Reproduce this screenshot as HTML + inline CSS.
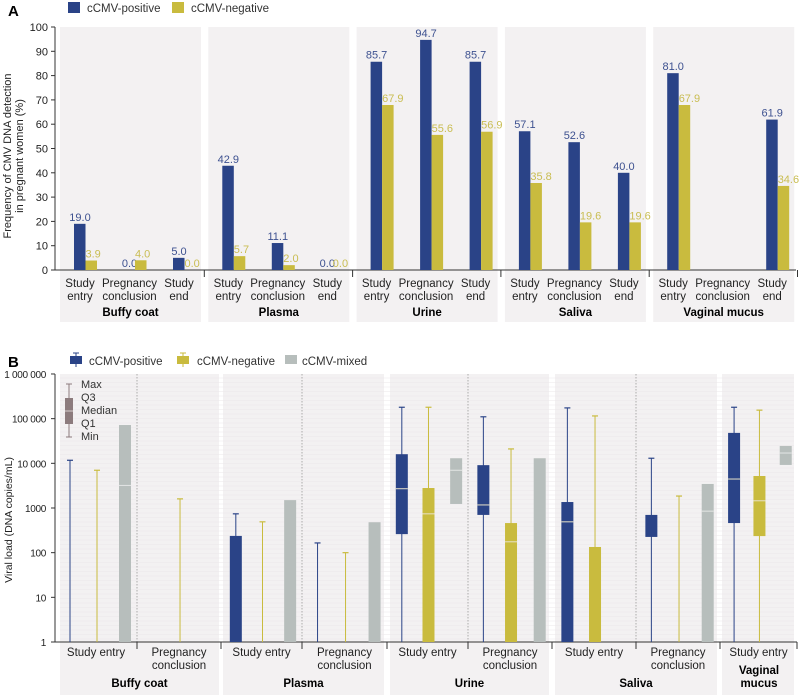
<!DOCTYPE html>
<html><head><meta charset="utf-8"><style>
html,body{margin:0;padding:0;background:#fff;}
svg{display:block;font-family:"Liberation Sans",sans-serif;}
</style></head><body>
<svg id="chart" width="800" height="695" viewBox="0 0 800 695" xmlns="http://www.w3.org/2000/svg">
<g id="gA"></g>
<g id="gB"></g>
</svg>
<script>
// ---------- Panel A data ----------
const aGroups = ["Buffy coat","Plasma","Urine","Saliva","Vaginal mucus"];
const aCats = [["Study","entry"],["Pregnancy","conclusion"],["Study","end"]];
const aPos = [[19.0,0.0,5.0],[42.9,11.1,0.0],[85.7,94.7,85.7],[57.1,52.6,40.0],[81.0,null,61.9]];
const aNeg = [[3.9,4.0,0.0],[5.7,2.0,0.0],[67.9,55.6,56.9],[35.8,19.6,19.6],[67.9,null,34.6]];
const aTicks = [0,10,20,30,40,50,60,70,80,90,100];
// ---------- Panel B data ----------
const bGroups = ["Buffy coat","Plasma","Urine","Saliva","Vaginal mucus"];
const bSubs = [["Study entry","Pregnancy conclusion"],["Study entry","Pregnancy conclusion"],["Study entry","Pregnancy conclusion"],["Study entry","Pregnancy conclusion"],["Study entry"]];
// [min,q1,median,q3,max] ; null = not shown
const bPos = [[1,1,null,1,11700],[1,1,null,1,null],[1,1,null,237,740],[1,1,null,1,165],[1,260,2700,16000,180000],[1,700,1170,9100,110000],[1,1,490,1360,174000],[1,225,225,700,13000],[1,460,4450,48000,180000]];
const bNeg = [[1,1,null,1,7000],[1,1,null,1,1600],[1,1,null,1,490],[1,1,null,1,100],[1,1,740,2800,180000],[1,1,175,460,21000],[1,1,null,134,115000],[1,1,null,1,1850],[1,235,1450,5200,155000]];
const bMix = [[1,3200,72000],[null,null,null],[1,null,1500],[1,null,480],[1230,7000,13000],[1,null,13000],[null,null,null],[1,850,3450],[9200,17000,24500]];
const bTicks = [1,10,100,1000,10000,100000,1000000];
const bTickLabels = ["1","10","100","1000","10 000","100 000","1 000 000"];

const NS="http://www.w3.org/2000/svg";
const BLUE="#2a4387", YEL="#c9bb3e", GRAY="#b7bebc", BG="#f3f1f2";
function mk(p,tag,attrs,text){const e=document.createElementNS(NS,tag);for(const k in attrs)e.setAttribute(k,attrs[k]);if(text!=null)e.textContent=text;p.appendChild(e);return e;}

// ===== Panel A =====
const gA=document.getElementById('gA');
const yA=v=>270-v*2.43;
const panelX=g=>60+g*148.3;
const t=mk(gA,'text',{x:8,y:16,'font-size':15,'font-weight':'bold'},'A');

let r=mk(gA,'rect',{x:68,y:2,width:12,height:11,fill:BLUE});

let tx=mk(gA,'text',{x:87,y:12,'font-size':11.5,fill:'#333'},'cCMV-positive');

r=mk(gA,'rect',{x:172,y:2,width:12,height:11,fill:YEL});

tx=mk(gA,'text',{x:191,y:12,'font-size':11.5,fill:'#333'},'cCMV-negative');

aGroups.forEach((gname,g)=>{
  const px=panelX(g);
  const bg=mk(gA,'rect',{x:px,y:27,width:141,height:295,fill:BG});
  
  const gl=mk(gA,'text',{x:px+70.5,y:316,'font-size':11.5,'font-weight':'bold','text-anchor':'middle'},gname);
  
});
aTicks.forEach(v=>{
  const l=mk(gA,'line',{x1:51,x2:55,y1:yA(v),y2:yA(v),stroke:'#333','stroke-width':1});
  
  const tl=mk(gA,'text',{x:48,y:yA(v)+4,'font-size':11,'text-anchor':'end',fill:'#222'},String(v));
  
});
let ax=mk(gA,'line',{x1:55,x2:55,y1:27,y2:270,stroke:'#333','stroke-width':1});

ax=mk(gA,'line',{x1:55,x2:796,y1:270,y2:270,stroke:'#333','stroke-width':1});

[1,2,3,4,5].forEach(i=>{const l=mk(gA,'line',{x1:panelX(i)-4,x2:panelX(i)-4,y1:270,y2:277,stroke:'#333'});
  });
const yt=mk(gA,'text',{transform:'translate(11,156) rotate(-90)','font-size':11,'text-anchor':'middle',fill:'#222'});

mk(yt,'tspan',{x:0,dy:0},'Frequency of CMV DNA detection');
mk(yt,'tspan',{x:0,dy:12},'in pregnant women (%)');
aGroups.forEach((gname,g)=>{
  aCats.forEach((c,i)=>{
    const bx=panelX(g)+14+49.5*i;
    const cl=mk(gA,'text',{x:bx+6,y:287,'font-size':11.5,'text-anchor':'middle',fill:'#222'});
    
    mk(cl,'tspan',{x:bx+6,dy:0},c[0]);mk(cl,'tspan',{x:bx+6,dy:13},c[1]);
    const p=aPos[g][i], n=aNeg[g][i];
    if(p!=null){
      const b=mk(gA,'rect',{x:bx,y:yA(p),width:11.5,height:270-yA(p),fill:BLUE});
      
      const l=mk(gA,'text',{x:bx+6,y:yA(p)-3,'font-size':11,'text-anchor':'middle',fill:'#3d5190'},p.toFixed(1));
      
    }
    if(n!=null){
      const b=mk(gA,'rect',{x:bx+11.5,y:yA(n),width:11.5,height:270-yA(n),fill:YEL});
      
      const l=mk(gA,'text',{x:bx+11.5,y:yA(n)-3,'font-size':11,'text-anchor':'start',fill:'#c9bd52'},n.toFixed(1));
      
    }
  });
});

// ===== Panel B =====
const gB=document.getElementById('gB');
const yB=v=>642-Math.log10(v)*44.67;
const subStarts=[55,137,221,302,387,468,552,636,720,797];
const groupBg=[[60,219],[223,384],[390,549],[555,717],[722,794]];
let bt=mk(gB,'text',{x:8,y:367,'font-size':15,'font-weight':'bold'},'B');

groupBg.forEach((gb,g)=>{
  const bg=mk(gB,'rect',{x:gb[0],y:374,width:gb[1]-gb[0],height:321,fill:BG});
  
  const nm=bGroups[g];
  if(nm==="Vaginal mucus"){
    const gl=mk(gB,'text',{x:(gb[0]+gb[1])/2+1,y:674,'font-size':11.5,'font-weight':'bold','text-anchor':'middle'});
    
    mk(gl,'tspan',{x:(gb[0]+gb[1])/2+1,dy:0},'Vaginal');mk(gl,'tspan',{x:(gb[0]+gb[1])/2+1,dy:13},'mucus');
  } else {
    const gl=mk(gB,'text',{x:(gb[0]+gb[1])/2,y:687,'font-size':11.5,'font-weight':'bold','text-anchor':'middle'},nm);
    
  }
});
for(let y=378;y<642;y+=4.5){
  const l=mk(gB,'line',{x1:60,x2:794,y1:y,y2:y,stroke:'#ebe8ea','stroke-width':0.6});
  
}
[137,302,468,636].forEach(x=>{const l=mk(gB,'line',{x1:x,x2:x,y1:374,y2:642,stroke:'#999','stroke-width':0.8,'stroke-dasharray':'1.5,1.5'});
  });
bTicks.forEach((v,i)=>{
  const l=mk(gB,'line',{x1:51,x2:55,y1:yB(v),y2:yB(v),stroke:'#333'});
  
  const tl=mk(gB,'text',{x:46,y:yB(v)+4,'font-size':10,'letter-spacing':'-0.3','text-anchor':'end',fill:'#222'},bTickLabels[i]);
  
});
ax=mk(gB,'line',{x1:55,x2:55,y1:374,y2:642,stroke:'#333'});

ax=mk(gB,'line',{x1:55,x2:797,y1:642,y2:642,stroke:'#333'});

subStarts.slice(1).forEach(x=>{const l=mk(gB,'line',{x1:x,x2:x,y1:642,y2:649,stroke:'#333'});
  });
const ytb=mk(gB,'text',{transform:'translate(12,520) rotate(-90)','font-size':10.5,'text-anchor':'middle',fill:'#222'},'Viral load (DNA copies/mL)');

function legIcon(x,col,name){
  const l=mk(gB,'line',{x1:x+6,x2:x+6,y1:353,y2:367,stroke:col,'stroke-width':1});
  
  const c=mk(gB,'line',{x1:x+3,x2:x+9,y1:353,y2:353,stroke:col});
  const b=mk(gB,'rect',{x:x,y:356,width:12,height:8,fill:col});
}
legIcon(70,BLUE,'legend-b-positive');
tx=mk(gB,'text',{x:89,y:365,'font-size':11.5,fill:'#333'},'cCMV-positive');
legIcon(177,YEL,'legend-b-negative');
tx=mk(gB,'text',{x:197,y:365,'font-size':11.5,fill:'#333'},'cCMV-negative');
r=mk(gB,'rect',{x:285,y:355,width:12,height:9,fill:GRAY});
tx=mk(gB,'text',{x:302,y:365,'font-size':11.5,fill:'#333'},'cCMV-mixed');
const KC="#8c7b7d";
let k=mk(gB,'line',{x1:69,x2:69,y1:384,y2:437,stroke:KC});
k=mk(gB,'line',{x1:66,x2:72,y1:384,y2:384,stroke:KC});
k=mk(gB,'line',{x1:66,x2:72,y1:437,y2:437,stroke:KC});
k=mk(gB,'rect',{x:65,y:398,width:8,height:26,fill:KC});
k=mk(gB,'line',{x1:65,x2:73,y1:411,y2:411,stroke:'#d8cfd0'});
["Max","Q3","Median","Q1","Min"].forEach((s,i)=>{const e=mk(gB,'text',{x:81,y:388+13*i,'font-size':11,fill:'#333'},s);
  });
let si=0;
bSubs.forEach((subs,g)=>{
  subs.forEach(name=>{
    const s0=subStarts[si], s1=subStarts[si+1], sc=(s1-s0)/82;
    const cx=(s0+s1)/2;
    if(name==="Study entry"){
      const e=mk(gB,'text',{x:cx,y:656,'font-size':11.5,'text-anchor':'middle',fill:'#222'},name);
      
    } else {
      const e=mk(gB,'text',{x:cx,y:656,'font-size':11.5,'text-anchor':'middle',fill:'#222'});
      
      mk(e,'tspan',{x:cx,dy:0},'Pregnancy');mk(e,'tspan',{x:cx,dy:13},'conclusion');
    }
    [[bPos,BLUE,15,'box-positive'],[bNeg,YEL,42,'box-negative']].forEach(([arr,col,off,nm])=>{
      const d=arr[si]; const x=s0+off*sc;
      if(d[4]!=null){
        const w=mk(gB,'line',{x1:x,x2:x,y1:yB(d[4]),y2:yB(d[0]),stroke:col,'stroke-width':1});
        
        const c=mk(gB,'line',{x1:x-3,x2:x+3,y1:yB(d[4]),y2:yB(d[4]),stroke:col,'stroke-width':1.2});
        
      }
      if(d[3]>d[1]){
        const b=mk(gB,'rect',{x:x-6,y:yB(d[3]),width:12,height:yB(d[1])-yB(d[3]),fill:col});
        
      }
      if(d[2]!=null && d[2]>d[1]){
        const m=mk(gB,'line',{x1:x-6,x2:x+6,y1:yB(d[2]),y2:yB(d[2]),stroke:'#e8e2c8','stroke-width':1});
        
      }
    });
    const mx=bMix[si];
    if(mx[2]!=null){
      const x=s0+70*sc;
      const b=mk(gB,'rect',{x:x-6,y:yB(mx[2]),width:12,height:yB(mx[0])-yB(mx[2]),fill:GRAY});
      
      if(mx[1]!=null){const m=mk(gB,'line',{x1:x-6,x2:x+6,y1:yB(mx[1]),y2:yB(mx[1]),stroke:'#e4e6e5'});
        }
    }
    si++;
  });
});
</script>
</body></html>
